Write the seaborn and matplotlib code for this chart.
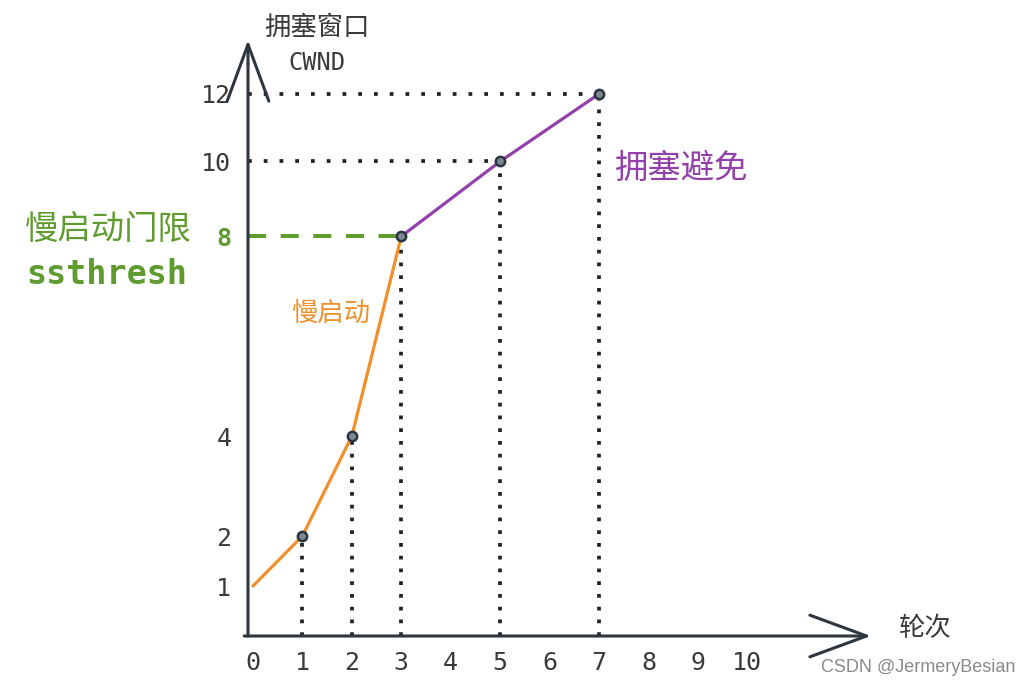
import numpy as np
import pandas as pd
import matplotlib
matplotlib.use("Agg")
import matplotlib.pyplot as plt
import seaborn as sns

# ---- data ----
rounds_slow = [0, 1, 2, 3]
cwnd_slow = [1, 2, 4, 8]
rounds_avoid = [3, 5, 7]
cwnd_avoid = [8, 10, 12]
marker_rounds = [1, 2, 3, 5, 7]
marker_cwnd = [2, 4, 8, 10, 12]
ssthresh = 8
x_ticks = [0, 1, 2, 3, 4, 5, 6, 7, 8, 9, 10]
y_ticks = [1, 2, 4, 8, 10, 12]
hline_vals = [10, 12]
hline_ends = [5, 7]

ORANGE = "#F0902A"
PURPLE = "#9440AA"
GREEN = "#5F9B2E"
AXIS = "#2E363E"
TXT = "#3A3A3A"

sns.set_theme(style="white")
plt.rcParams["font.family"] = ["Noto Sans CJK SC", "DejaVu Sans"]

fig = plt.figure(figsize=(10.31, 6.88), dpi=100)
ax = fig.add_axes([248 / 1031, 52 / 688, 623 / 1031, 596 / 688])
ax.patch.set_alpha(0)

# hand-drawn style, non-uniform value axis
knots_v = [0, 8, 10, 12, 16]
knots_t = [0, 8, 9.5, 10.85, 13.55]
fwd = lambda v: np.interp(v, knots_v, knots_t)
inv = lambda t: np.interp(t, knots_t, knots_v)
ax.set_yscale("function", functions=(fwd, inv))
ax.set_xlim(-0.1, 12.5)
ax.set_ylim(0, 13.6)

for s in ax.spines.values():
    s.set_visible(False)

# guide lines
vl = ax.vlines(marker_rounds, 0, marker_cwnd, colors="#222222", linestyles=(0, (1, 2.4)),
               linewidth=2.7, zorder=1)
vl.set_capstyle("butt")
hl = ax.hlines(hline_vals, -0.1, hline_ends, colors="#222222", linestyles=(0, (1, 3.2)),
               linewidth=2.7, zorder=1)
hl.set_capstyle("butt")
ax.hlines([ssthresh], -0.1, rounds_avoid[0], colors=GREEN, linestyles=(0, (4.5, 3.6)),
          linewidth=2.9, zorder=2)

# curves
df_slow = pd.DataFrame({"round": rounds_slow, "cwnd": cwnd_slow})
df_avoid = pd.DataFrame({"round": rounds_avoid, "cwnd": cwnd_avoid})
sns.lineplot(data=df_slow, x="round", y="cwnd", ax=ax, color=ORANGE, linewidth=2.3,
             sort=False, zorder=3)
sns.lineplot(data=df_avoid, x="round", y="cwnd", ax=ax, color=PURPLE, linewidth=2.3,
             sort=False, zorder=3)
df_m = pd.DataFrame({"round": marker_rounds, "cwnd": marker_cwnd})
sns.scatterplot(data=df_m, x="round", y="cwnd", ax=ax, s=45, color="#7E8890",
                edgecolor="#2A3540", linewidth=1.8, zorder=4)

# axes with open arrow heads
arrow_kw = dict(arrowstyle="->, head_length=3.4, head_width=1.25", color=AXIS,
                lw=2.2, shrinkA=0, shrinkB=0)
ax.annotate("", xy=(0, 1), xycoords="axes fraction", xytext=(0, 0),
            textcoords="axes fraction", arrowprops=arrow_kw, annotation_clip=False)
ax.annotate("", xy=(1, 0), xycoords="axes fraction", xytext=(-0.006, 0),
            textcoords="axes fraction", arrowprops=arrow_kw, annotation_clip=False)

# ticks
ax.set_xticks(x_ticks)
ax.set_xticklabels([str(v) for v in x_ticks], family="DejaVu Sans Mono", fontsize=18,
                   color=TXT)
ax.set_yticks(y_ticks)
ax.set_yticklabels([str(v) for v in y_ticks], family="DejaVu Sans Mono", fontsize=18,
                   color=TXT)
ax.yaxis.set_minor_locator(matplotlib.ticker.NullLocator())
ax.tick_params(axis="x", length=0, pad=11)
ax.tick_params(axis="y", length=0, pad=12)
for lab in ax.get_yticklabels():
    if lab.get_text() == str(ssthresh):
        lab.set_color(GREEN)
        lab.set_fontweight("bold")
ax.set_xlabel("")
ax.set_ylabel("")

# annotations
def ftext(px, py, s, **kw):
    fig.text(px / 1031, 1 - py / 688, s, ha="center", va="center", **kw)

ftext(317, 27, "拥塞窗口", fontsize=19, color=TXT, fontweight="medium")
ftext(317, 63, "CWND", fontsize=17, color=TXT, family="DejaVu Sans Mono")
ftext(925, 628, "轮次", fontsize=19, color=TXT, fontweight="medium")
ftext(681, 168, "拥塞避免", fontsize=24, color=PURPLE, fontweight="medium")
ftext(108, 229, "慢启动门限", fontsize=24, color=GREEN, fontweight="medium")
ftext(107, 275, "ssthresh", fontsize=24, color=GREEN, family="DejaVu Sans Mono",
      fontweight="bold")
ftext(331, 313, "慢启动", fontsize=19, color=ORANGE, fontweight="medium")
ftext(918, 668, "CSDN @JermeryBesian", fontsize=13, color="#8A8A8A",
      family="Liberation Sans")

fig.savefig("out.png", dpi=100, facecolor="white")
